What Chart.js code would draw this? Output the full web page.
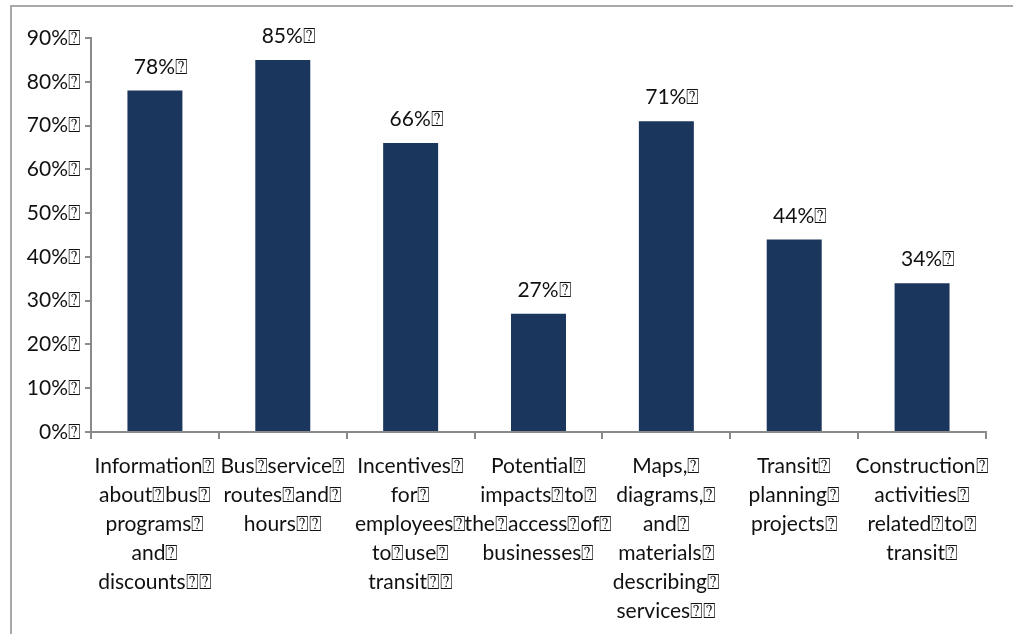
<!DOCTYPE html>
<html>
<head>
<meta charset="utf-8">
<script src="https://cdn.jsdelivr.net/npm/chart.js@4.4.1/dist/chart.umd.min.js"></script>
<style>
    html, body { margin: 0; padding: 0; background: #fff; }
    #wrap { width: 1013px; height: 634px; }
</style>
</head>
<body>
<div id="wrap"><canvas id="topicsChart"></canvas></div>
<script>
// the odd box glyph is part of the exported labels
const Q = '\u2370';

const categories = [
    ['Information' + Q, 'about' + Q + 'bus' + Q, 'programs' + Q, 'and' + Q, 'discounts' + Q + Q],
    ['Bus' + Q + 'service' + Q, 'routes' + Q + 'and' + Q, 'hours' + Q + Q],
    ['Incentives' + Q, 'for' + Q, 'employees' + Q, 'to' + Q + 'use' + Q, 'transit' + Q + Q],
    ['Potential' + Q, 'impacts' + Q + 'to' + Q, 'the' + Q + 'access' + Q + 'of' + Q, 'businesses' + Q],
    ['Maps,' + Q, 'diagrams,' + Q, 'and' + Q, 'materials' + Q, 'describing' + Q, 'services' + Q + Q],
    ['Transit' + Q, 'planning' + Q, 'projects' + Q],
    ['Construction' + Q, 'activities' + Q, 'related' + Q + 'to' + Q, 'transit' + Q]
];
const shares = [0.78, 0.85, 0.66, 0.27, 0.71, 0.44, 0.34];
const yTicks = [0, 0.1, 0.2, 0.3, 0.4, 0.5, 0.6, 0.7, 0.8, 0.9];

const FONT = 'Lato, "Open Sans", sans-serif';
const AXIS = '#8a8a8a';

const pct = v => Math.round(v * 100) + '%' + Q;

// frame around the whole chart (right and bottom fall outside the page)
const framePlugin = {
    id: 'frame',
    beforeDraw(chart) {
        const c = chart.ctx;
        c.save();
        c.strokeStyle = '#a8a8a8';
        c.lineWidth = 2;
        c.strokeRect(11, 6, chart.width + 20, chart.height + 20);
        c.restore();
    }
};

// percentage above each bar
const valueLabels = {
    id: 'valueLabels',
    afterDatasetsDraw(chart) {
        const c = chart.ctx;
        const meta = chart.getDatasetMeta(0);
        c.save();
        c.font = '21px ' + FONT;
        c.fillStyle = '#111';
        c.textAlign = 'center';
        c.textBaseline = 'bottom';
        meta.data.forEach((bar, i) => {
            c.fillText(pct(shares[i]), bar.x + 6, bar.y - 13);
        });
        c.restore();
    }
};

new Chart(document.getElementById('topicsChart'), {
    type: 'bar',
    data: {
        labels: categories,
        datasets: [{
            data: shares,
            backgroundColor: '#1b365d',
            borderWidth: 0,
            categoryPercentage: 1,
            barPercentage: 0.43
        }]
    },
    options: {
        responsive: true,
        maintainAspectRatio: false,
        animation: false,
        layout: { padding: { top: 38, right: 27, left: 0, bottom: 0 } },
        plugins: {
            legend: { display: false },
            tooltip: { enabled: false }
        },
        scales: {
            x: {
                afterFit: s => { s.height = 202; },
                grid: {
                    offset: true,
                    drawOnChartArea: false,
                    color: AXIS,
                    lineWidth: 2,
                    tickLength: 7
                },
                border: { color: AXIS, width: 2 },
                ticks: {
                    autoSkip: false,
                    maxRotation: 0,
                    padding: 13,
                    color: '#111',
                    font: { family: FONT, size: 21, lineHeight: 1.38 }
                }
            },
            y: {
                min: 0,
                max: 0.9,
                afterFit: s => { s.width = 91; },
                afterBuildTicks: s => { s.ticks = yTicks.map(v => ({ value: v })); },
                grid: {
                    drawOnChartArea: false,
                    color: AXIS,
                    lineWidth: 2,
                    tickLength: 6
                },
                border: { color: AXIS, width: 2 },
                ticks: {
                    padding: 4,
                    color: '#111',
                    font: { family: FONT, size: 21 },
                    callback: v => pct(v)
                }
            }
        }
    },
    plugins: [framePlugin, valueLabels]
});
</script>
</body>
</html>
